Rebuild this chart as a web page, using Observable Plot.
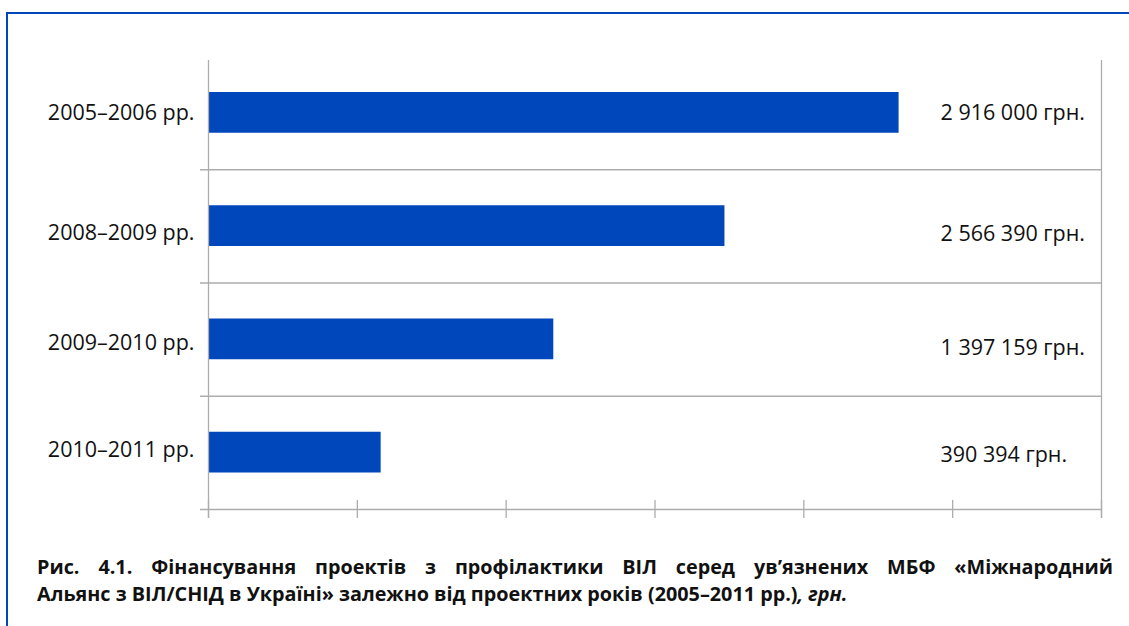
<!DOCTYPE html>
<html>
<head>
<meta charset="utf-8">
<script src="https://cdn.jsdelivr.net/npm/d3@7"></script>
<script src="https://cdn.jsdelivr.net/npm/@observablehq/plot@0.6"></script>
<style>
  html, body { margin: 0; padding: 0; background: #fff; }
  #wrap { position: relative; width: 1129px; height: 626px; overflow: hidden; font-family: "Open Sans", sans-serif; }
  #frame { position: absolute; left: 6px; top: 12px; width: 1200px; height: 700px;
           border-top: 2px solid #0047bb; border-left: 2px solid #0047bb; box-sizing: border-box; }
  #chart { position: absolute; left: 0; top: 0; }
  #caption { position: absolute; left: 37px; top: 553px; width: 1076px; font-weight: 700;
             font-size: 19.8px; line-height: 27px; color: #111; }
  #caption .l1 { display: block; text-align: justify; text-align-last: justify; }
  #caption .l2 { display: block; text-align: left; }
</style>
</head>
<body>
<div id="wrap">
  <div id="frame"></div>
  <div id="chart"></div>
  <div id="caption">
    <span class="l1">Рис. 4.1. Фінансування проектів з профілактики ВІЛ серед ув’язнених МБФ «Міжнародний</span>
    <span class="l2">Альянс з ВІЛ/СНІД в Україні» залежно від проектних років (2005–2011 рр.)<i>, грн.</i></span>
  </div>
</div>
<script>
// ---- data ----
const periods = ["2005–2006 рр.", "2008–2009 рр.", "2009–2010 рр.", "2010–2011 рр."];
const amounts = [2916000, 2566390, 1397159, 390394];
// drawn bar lengths (in axis-tick units)
const barLengths = [4.64, 3.47, 2.32, 1.16];
const xTicks = [0, 1, 2, 3, 4, 5, 6];
const rowEdges = [1, 2, 3, 4];

const rows = periods.map((p, i) => ({period: p, row: i, amount: amounts[i], length: barLengths[i]}));

const uaFormat = d3.formatLocale({decimal: ",", thousands: " ", grouping: [3], currency: ["", " грн."]}).format(",d");

const gray = "#adadad";
const blue = "#0047bb";
const leftDy = [-0.5, 7, 3.5, -2.5];
const rightDy = [0, 8, 8, 2.5];

const chart = Plot.plot({
  width: 1129,
  height: 530,
  marginLeft: 208,
  marginRight: 28,
  marginTop: 56,
  marginBottom: 21,
  x: {domain: [0, 6], axis: null},
  y: {domain: [0, 4], reverse: true, axis: null},
  style: {fontFamily: "'Open Sans', sans-serif", fontSize: "21.5px", color: "#111", background: "transparent"},
  marks: [
    Plot.rectX(rows, {x1: 0, x2: "length", y1: "row", y2: d => d.row + 1, fill: blue, insetTop: 36, insetBottom: 36.5}),
    Plot.ruleY(rowEdges, {y: d => d, stroke: gray, strokeWidth: 1.3, insetLeft: -8}),
    Plot.ruleX([xTicks[0], xTicks[xTicks.length - 1]], {x: d => d, stroke: gray, strokeWidth: 1.3, insetTop: 4, insetBottom: -9}),
    Plot.ruleX(xTicks, {x: d => d, y1: 4, y2: 4, stroke: gray, strokeWidth: 1.3, insetTop: -9, insetBottom: -9}),
    ...rows.map((r, i) => Plot.text([r], {x: 0, y: d => d.row + 0.5, text: "period", textAnchor: "end", dx: -14, dy: leftDy[i], fill: "#111"})),
    ...rows.map((r, i) => Plot.text([r], {x: 6, y: d => d.row + 0.5, text: d => uaFormat(d.amount) + " грн.", textAnchor: "start", dx: -161, dy: rightDy[i], fill: "#111"}))
  ]
});
document.getElementById("chart").appendChild(chart);
</script>
</body>
</html>
